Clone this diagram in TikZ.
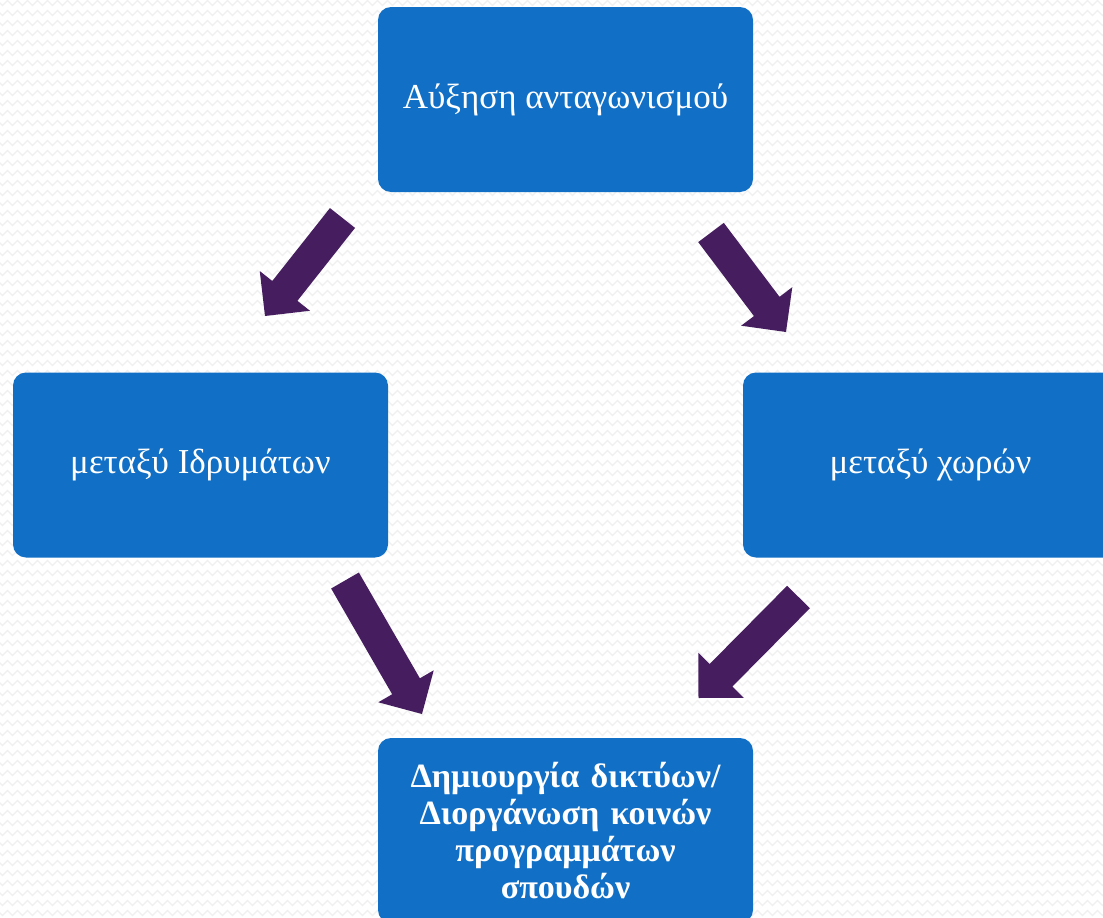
\documentclass[tikz,border=0pt]{standalone}
\usepackage{fontspec}
\setmainfont{Liberation Serif}
\usetikzlibrary{calc,decorations.pathmorphing}
\definecolor{boxblue}{HTML}{1170C6}
\definecolor{arrowpurple}{HTML}{461E5F}
\definecolor{bgzig}{HTML}{F0F0F0}
\tikzset{
  boxnode/.style={rounded corners=13pt, fill=boxblue, minimum width=375pt, minimum height=185pt,
    text=white, inner sep=0pt, font=\fontsize{35}{37}\selectfont},
  boldbox/.style={boxnode, text width=370pt, align=center, font=\fontsize{34}{37}\selectfont\bfseries},
  zigline/.style={draw=bgzig, line width=1.2pt, decorate, decoration={zigzag, segment length=10pt, amplitude=2.5pt}}
}
\newcommand{\blockarrow}[2]{%
  \path ($(#2)!32pt!(#1)$) coordinate (hb);
  \fill[arrowpurple] ($(#1)!16pt!90:(#2)$) -- ($(hb)!16pt!90:(#2)$) -- ($(hb)!32pt!90:(#2)$)
    -- (#2) -- ($(hb)!32pt!-90:(#2)$) -- ($(hb)!16pt!-90:(#2)$) -- ($(#1)!16pt!-90:(#2)$) -- cycle;
}
\begin{document}
\begin{tikzpicture}[x=1pt,y=-1pt]
\useasboundingbox (0,0) rectangle (1103,918);
\begin{scope}
\clip (0,0) rectangle (1103,918);
\fill[white] (0,0) rectangle (1103,918);
\foreach \yy in {3,13,...,923} {
  \draw[zigline] (-5,\yy) -- (1110,\yy);
}
\node[boxnode] (top) at (565.5,99.5) {Αύξηση ανταγωνισμού};
\node[boxnode] (left) at (200.5,465) {μεταξύ Ιδρυμάτων};
\node[boxnode] (right) at (930.5,465) {μεταξύ χωρών};
\node[boldbox] (bottom) at (565.5,830.5) {Δημιουργία δικτύων/\\ Διοργάνωση κοινών\\ προγραμμάτων\\ σπουδών};
\coordinate (a1s) at (342.5,218);
\coordinate (a1e) at (265,316);
\coordinate (a2s) at (711,232.5);
\coordinate (a2e) at (786,332);
\coordinate (a3s) at (345,580.5);
\coordinate (a3e) at (422,714);
\coordinate (a4s) at (798.5,597);
\coordinate (a4e) at (698.5,698);
\blockarrow{a1s}{a1e}
\blockarrow{a2s}{a2e}
\blockarrow{a3s}{a3e}
\blockarrow{a4s}{a4e}
\end{scope}
\end{tikzpicture}
\end{document}
